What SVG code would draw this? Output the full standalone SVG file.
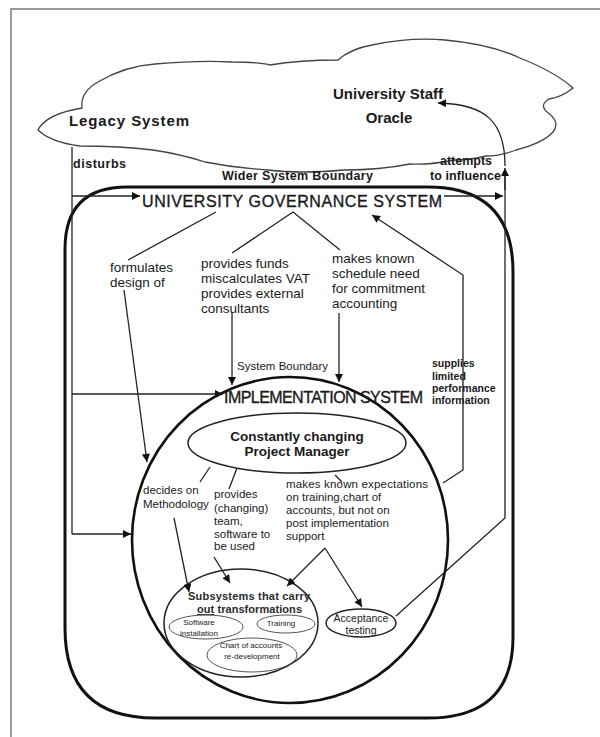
<svg xmlns="http://www.w3.org/2000/svg" width="600" height="737" viewBox="0 0 600 737">
  <defs>
    <marker id="arrow" viewBox="0 0 10 10" refX="10" refY="5" markerWidth="9" markerHeight="8" markerUnits="userSpaceOnUse" orient="auto">
      <path d="M0,0 L10,5 L0,10 Z" fill="#111"/>
    </marker>
    <style>
      .frame { fill: none; stroke: #9a9a9a; stroke-width: 2; }
      .cloud { fill: #fff; stroke: #444; stroke-width: 1.3; }
      .bound { fill: none; stroke: #111; stroke-width: 3; }
      .impl { fill: none; stroke: #111; stroke-width: 2.6; }
      .oval { fill: none; stroke: #222; stroke-width: 1.5; }
      .small-oval { fill: none; stroke: #555; stroke-width: 1; }
      .line { fill: none; stroke: #222; stroke-width: 1.3; }
      .arrow { fill: none; stroke: #222; stroke-width: 1.3; marker-end: url(#arrow); }
      text { font-family: "Liberation Sans", Arial, sans-serif; fill: #1a1a1a; }
      .big { font-size: 15px; font-weight: bold; }
      .title { font-size: 16px; stroke: #1a1a1a; stroke-width: 0.35; }
      .lbl { font-size: 13.5px; }
      .sm { font-size: 11.5px; }
      .smb { font-size: 12.5px; font-weight: bold; }
      .info { font-size: 10.5px; font-weight: bold; }
      .pm { font-size: 13.5px; font-weight: bold; }
      .sub { font-size: 11px; font-weight: bold; fill: #2a2a2a; }
      .tiny { font-size: 8px; }
      .mid { text-anchor: middle; }
    </style>
  </defs>

  <rect width="600" height="737" fill="#fff"/>
  <!-- page frame -->
  <path class="frame" d="M11,737 V9 H600"/>

  <!-- environment cloud -->
  <g id="environment">
    <path class="cloud" d="M38,130 Q46,114 82,108 Q80,92 98,82 Q125,66 155,64 Q200,60 232,62 Q258,62 270,65 Q300,60 338,60 Q350,49 372,45 Q410,37 445,40 Q490,44 520,58 Q555,72 573,88 Q562,97 549,99 Q539,105 547,112 Q561,122 553,132 Q543,143 516,150 Q500,156 486,156 Q470,160 455,160 Q430,165 410,164 Q380,170 344,170 Q300,174 268,170 Q235,168 205,162 Q180,154 153,150 Q120,146 80,146 Q50,142 38,130 Z"/>
    <text class="big" x="69" y="126" textLength="120">Legacy System</text>
    <text class="big mid" x="388" y="99">University Staff</text>
    <text class="big mid" x="389" y="123">Oracle</text>
  </g>

  <!-- wider system boundary -->
  <g id="governance">
    <path class="bound" d="M65,249 Q65,187 127,187 H428 Q513,187 513,272 V637 Q513,718 428,718 H155 Q65,718 65,628 Z"/>
    <text class="title" x="142" y="207" textLength="300">UNIVERSITY GOVERNANCE SYSTEM</text>
  </g>

  <!-- implementation system -->
  <g id="implementation">
    <ellipse class="impl" cx="290" cy="540" rx="158" ry="163"/>
    <text class="title" x="224" y="403" textLength="199">IMPLEMENTATION SYSTEM</text>
  </g>

  <g id="project-manager">
    <ellipse class="oval" cx="297" cy="443" rx="109" ry="30"/>
    <text class="pm mid" x="297" y="441">Constantly changing</text>
    <text class="pm mid" x="297" y="456">Project Manager</text>
  </g>

  <g id="subsystems">
    <ellipse class="oval" cx="241" cy="623" rx="77" ry="54"/>
    <text class="sub" x="188" y="600" textLength="122">Subsystems  that carry</text>
    <text class="sub" x="197" y="613" textLength="105"><tspan text-decoration="underline">out</tspan> transformations</text>
  </g>

  <g id="software-installation">
    <ellipse class="small-oval" cx="206" cy="627" rx="37" ry="12"/>
    <text class="tiny mid" x="199" y="625">Software</text>
    <text class="tiny mid" x="199" y="636">installation</text>
  </g>

  <g id="training">
    <ellipse class="small-oval" cx="286" cy="624" rx="29" ry="9"/>
    <text class="tiny mid" x="281" y="626">Training</text>
  </g>

  <g id="chart-of-accounts">
    <ellipse class="small-oval" cx="252" cy="655" rx="45" ry="17"/>
    <text class="tiny mid" x="251" y="648">Chart of accounts</text>
    <text class="tiny mid" x="252" y="659">re-development</text>
  </g>

  <g id="acceptance-testing">
    <ellipse class="oval" cx="361" cy="623" rx="35" ry="14" stroke-width="2"/>
    <text class="mid" x="361" y="622" font-size="10.5">Acceptance</text>
    <text class="mid" x="361" y="634" font-size="10.5">testing</text>
  </g>

  <!-- connectors and their labels -->
  <g id="connectors">
    <!-- legacy system disturbs the governance system -->
    <path class="line" d="M72,147 V534"/>
    <path class="arrow" d="M72,196 H140"/>
    <path class="arrow" d="M444,196 H503"/>
    <path class="arrow" d="M72,394 H223"/>
    <path class="arrow" d="M72,534 H131"/>

    <!-- attempts to influence -->
    <path class="line" d="M396,616 L505,518 V175"/>
    <path class="arrow" d="M505,190 V168"/>
    <path class="arrow" d="M505,166 C505,122 486,104 438,103"/>

    <!-- governance outputs -->
    <path class="line" d="M216,212 L128,260"/>
    <path class="line" d="M232,253 L293,212 L340,250"/>
    <path class="arrow" d="M124,290 L147,462"/>
    <path class="arrow" d="M232,312 V385"/>
    <path class="arrow" d="M339,313 V382"/>

    <!-- supplies limited performance information -->
    <path class="arrow" d="M443,483 L463,470 V275 L372,215"/>

    <!-- project manager outputs -->
    <path class="line" d="M210,467 L200,482"/>
    <path class="arrow" d="M174,518 L189,592"/>
    <path class="line" d="M237,468 L229,489"/>
    <path class="arrow" d="M214,557 L230,583"/>
    <path class="line" d="M335,475 L342,482"/>
    <path class="arrow" d="M325,548 L287,586"/>
    <path class="arrow" d="M325,548 L362,607"/>

    <text class="smb" x="73" y="168" textLength="53">disturbs</text>
    <text class="smb" x="222" y="180" textLength="151">Wider System Boundary</text>
    <text class="smb mid" x="466" y="165">attempts</text>
    <text class="smb" x="430" y="180" textLength="71">to influence</text>
    <text class="sm" x="237" y="370" textLength="91">System Boundary</text>

    <text class="lbl" x="110" y="272">formulates</text>
    <text class="lbl" x="110" y="287">design of</text>

    <text class="lbl" x="201" y="268">provides funds</text>
    <text class="lbl" x="201" y="283">miscalculates VAT</text>
    <text class="lbl" x="201" y="298">provides external</text>
    <text class="lbl" x="201" y="313">consultants</text>

    <text class="lbl" x="332" y="263">makes known</text>
    <text class="lbl" x="332" y="278">schedule need</text>
    <text class="lbl" x="332" y="293">for commitment</text>
    <text class="lbl" x="332" y="308">accounting</text>

    <text class="info" x="432" y="367">supplies</text>
    <text class="info" x="432" y="380">limited</text>
    <text class="info" x="432" y="392">performance</text>
    <text class="info" x="432" y="404">information</text>

    <text class="sm" x="143" y="494">decides on</text>
    <text class="sm" x="143" y="508">Methodology</text>

    <text class="sm" x="214" y="498">provides</text>
    <text class="sm" x="214" y="512">(changing)</text>
    <text class="sm" x="214" y="525">team,</text>
    <text class="sm" x="214" y="538">software to</text>
    <text class="sm" x="214" y="550">be used</text>

    <text class="sm" x="286" y="488" textLength="142">makes known expectations</text>
    <text class="sm" x="286" y="501">on training,chart of</text>
    <text class="sm" x="286" y="514">accounts, but not on</text>
    <text class="sm" x="286" y="527">post implementation</text>
    <text class="sm" x="286" y="540">support</text>
  </g>
</svg>
